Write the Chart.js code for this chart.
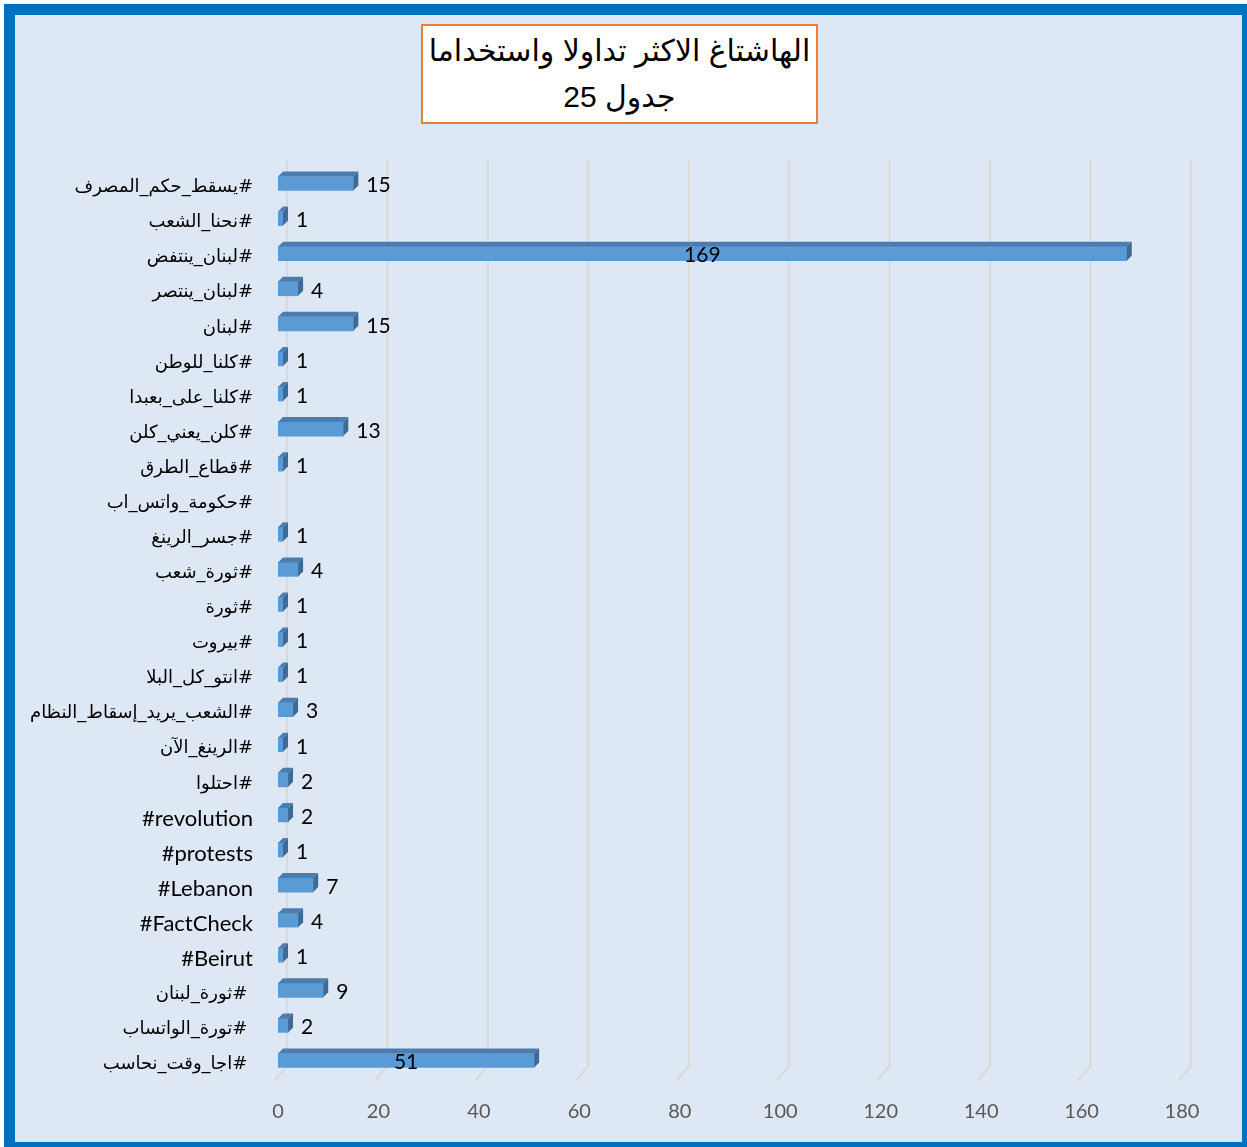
<!DOCTYPE html>
<html>
<head>
<meta charset="utf-8">
<script src="https://cdn.jsdelivr.net/npm/chart.js@4/dist/chart.umd.min.js"></script>
<style>
  html, body { margin: 0; padding: 0; background: #ffffff; }
  #frame {
    position: absolute; left: 4px; top: 4px;
    width: 1227px; height: 1127px;
    border-style: solid; border-color: #0070c0;
    border-width: 11px 5px 5px 11px;
    background: #dee8f4;
  }
  #title {
    position: absolute; left: 421px; top: 24px;
    width: 393px; height: 94px;
    border: 2px solid #ed7d31; background: #ffffff;
    font-family: "Liberation Sans", "DejaVu Sans", sans-serif;
    font-size: 30px; line-height: 46px; text-align: center; color: #000;
    padding-top: 2px; box-sizing: content-box; white-space: nowrap;
  }
  #chart { position: absolute; left: 0; top: 0; }
</style>
</head>
<body>
<div id="frame"></div>
<canvas id="chart" width="1247" height="1147"></canvas>
<div id="title" dir="rtl">الهاشتاغ الاكثر تداولا واستخداما<br>جدول 25</div>
<script>
const hashtags = [
  '#يسقط_حكم_المصرف', '#نحنا_الشعب', '#لبنان_ينتفض', '#لبنان_ينتصر', '#لبنان',
  '#كلنا_للوطن', '#كلنا_على_بعبدا', '#كلن_يعني_كلن', '#قطاع_الطرق', '#حكومة_واتس_اب',
  '#جسر_الرينغ', '#ثورة_شعب', '#ثورة', '#بيروت', '#انتو_كل_البلا',
  '#الشعب_يريد_إسقاط_النظام', '#الرينغ_الآن', '#احتلوا', '#revolution', '#protests',
  '#Lebanon', '#FactCheck', '#Beirut', '#ثورة_لبنان ', '#تورة_الواتساب ', '#اجا_وقت_نحاسب '
];
const counts = [15, 1, 169, 4, 15, 1, 1, 13, 1, null, 1, 4, 1, 1, 1, 3, 1, 2, 2, 1, 7, 4, 1, 9, 2, 51];
const xTicks = [0, 20, 40, 60, 80, 100, 120, 140, 160, 180];

const arabic = /[\u0600-\u06FF]/;
const DEPTH_X = 5, DEPTH_Y = 5;

// back-wall gridlines with the floor diagonal, like the 3D Excel chart
const wallGrid = {
  id: 'wallGrid',
  beforeDatasetsDraw(chart) {
    const { ctx, chartArea, scales } = chart;
    ctx.save();
    ctx.strokeStyle = '#d9d9d9';
    ctx.lineWidth = 2;
    xTicks.forEach(v => {
      const x = scales.x.getPixelForValue(v);
      ctx.beginPath();
      ctx.moveTo(x + 9, chartArea.top - 6);
      ctx.lineTo(x + 9, chartArea.bottom - 12);
      ctx.lineTo(x - 3, chartArea.bottom + 2);
      ctx.stroke();
    });
    ctx.restore();
  }
};

// top and side faces of the bars + value labels
const bars3d = {
  id: 'bars3d',
  afterDatasetsDraw(chart) {
    const { ctx } = chart;
    const meta = chart.getDatasetMeta(0);
    ctx.save();
    meta.data.forEach((bar, i) => {
      const v = counts[i];
      if (v === null || v === undefined) return;
      const top = bar.y - bar.height / 2, bottom = bar.y + bar.height / 2;
      const left = bar.base, right = bar.x;
      ctx.fillStyle = '#4a7cb0';
      ctx.beginPath();
      ctx.moveTo(left, top);
      ctx.lineTo(left + DEPTH_X, top - DEPTH_Y);
      ctx.lineTo(right + DEPTH_X, top - DEPTH_Y);
      ctx.lineTo(right, top);
      ctx.closePath();
      ctx.fill();
      ctx.fillStyle = '#3d6a97';
      ctx.beginPath();
      ctx.moveTo(right, top);
      ctx.lineTo(right + DEPTH_X, top - DEPTH_Y);
      ctx.lineTo(right + DEPTH_X, bottom - DEPTH_Y);
      ctx.lineTo(right, bottom);
      ctx.closePath();
      ctx.fill();

      ctx.fillStyle = '#000000';
      ctx.font = '21px Lato, "DejaVu Sans", sans-serif';
      ctx.textBaseline = 'middle';
      if (v > 40) {
        ctx.textAlign = 'center';
        ctx.fillText(String(v), (left + right) / 2, bar.y + 2);
      } else {
        ctx.textAlign = 'left';
        ctx.fillText(String(v), right + 13, bar.y + 2);
      }
    });
    ctx.restore();
  }
};

new Chart(document.getElementById('chart'), {
  type: 'bar',
  data: {
    labels: hashtags,
    datasets: [{
      data: counts,
      backgroundColor: '#5b9bd5',
      borderWidth: 0,
      barThickness: 14
    }]
  },
  options: {
    indexAxis: 'y',
    responsive: false,
    animation: false,
    layout: { padding: { top: 166, left: 0, right: 65, bottom: 19 } },
    plugins: { legend: { display: false }, tooltip: { enabled: false } },
    scales: {
      x: {
        min: 0, max: 180,
        afterBuildTicks(scale) { scale.ticks = xTicks.map(v => ({ value: v })); },
        afterFit(scale) { scale.height = 50; },
        grid: { display: false, drawTicks: false },
        border: { display: false },
        ticks: {
          color: '#595959', padding: 22,
          font: { family: 'Lato, sans-serif', size: 20 }
        }
      },
      y: {
        afterFit(scale) { scale.width = 278; },
        grid: { display: false, drawTicks: false },
        border: { display: false },
        ticks: {
          color: '#000000', padding: 25, autoSkip: false, labelOffset: 4,
          font(ctx) {
            const t = hashtags[ctx.index] || '';
            return arabic.test(t)
              ? { family: '"DejaVu Sans", sans-serif', size: 18 }
              : { family: 'Lato, sans-serif', size: 22 };
          },
          callback(value, i) {
            const t = hashtags[i];
            return arabic.test(t) ? '\u200F' + t : t;
          }
        }
      }
    }
  },
  plugins: [wallGrid, bars3d]
});
</script>
</body>
</html>
